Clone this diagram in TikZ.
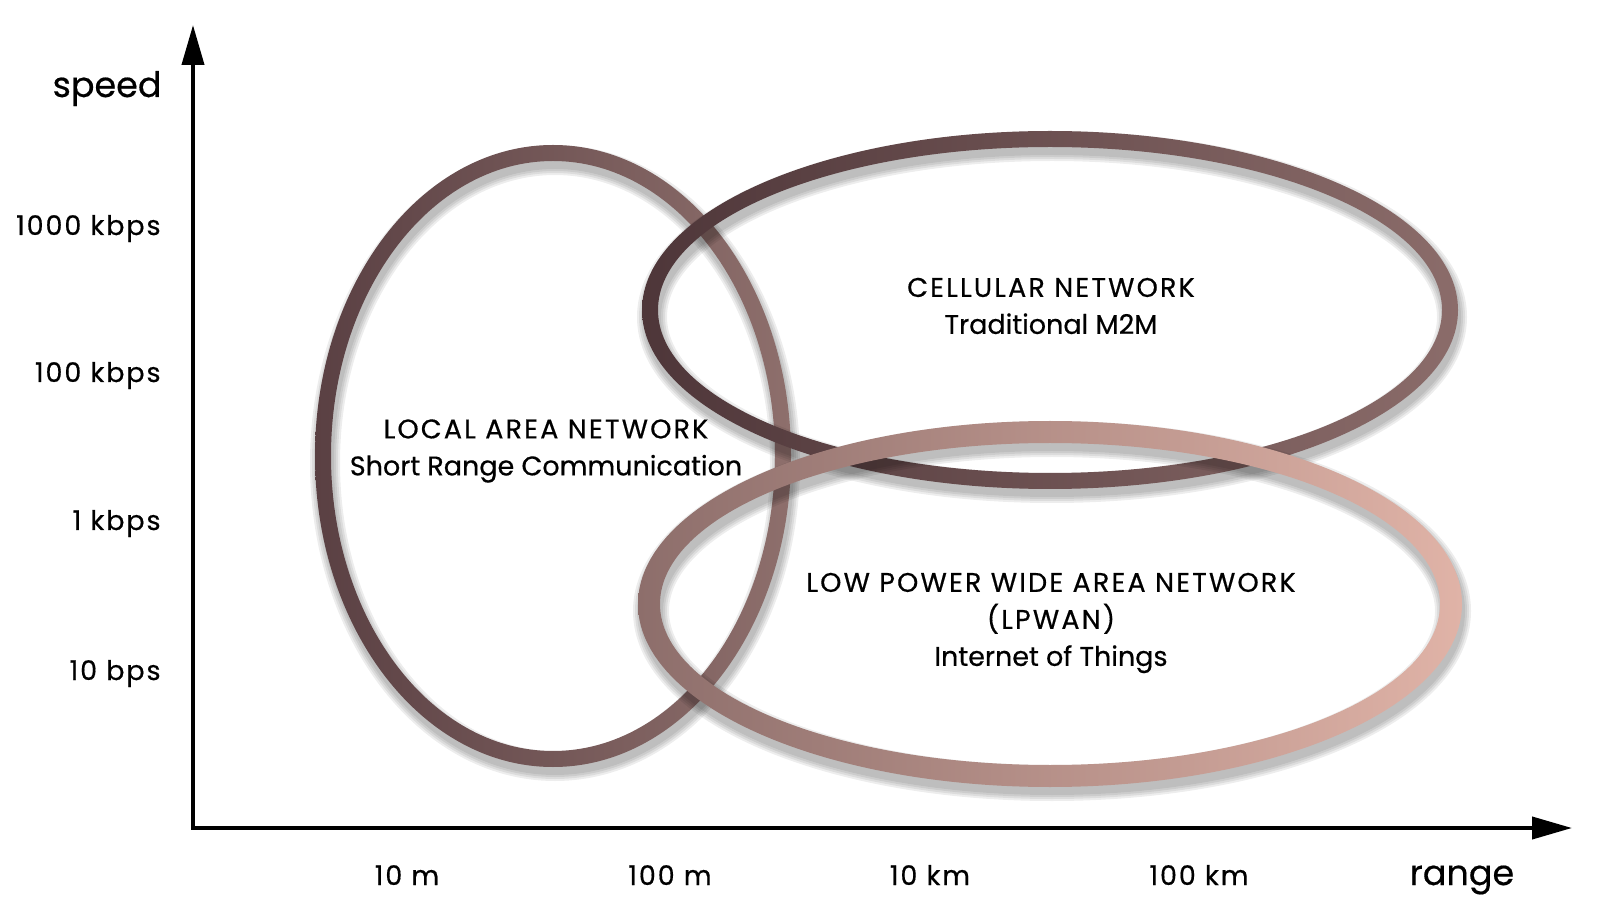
\documentclass[tikz,border=0pt]{standalone}
\usepackage{fontspec}
\setmainfont{Poppins}[FakeBold=0.5]
\newfontfamily\capsfont{Poppins}[FakeBold=0.5, LetterSpace=8]
\newfontfamily\tickfont{Poppins}[FakeBold=0.5, LetterSpace=7]
\usetikzlibrary{arrows.meta}

\definecolor{lanleft}{HTML}{5A4043}
\definecolor{lanright}{HTML}{8E6F6C}
\definecolor{cellleft}{HTML}{4E3639}
\definecolor{cellright}{HTML}{8B6C6A}
\definecolor{lpwanleft}{HTML}{8D6E6B}
\definecolor{lpwanright}{HTML}{E0B3A7}

\tikzset{
  ticklabel/.style={inner sep=0pt, font=\tickfont\fontsize{13.5}{16}\selectfont},
  axislabel/.style={inner sep=0pt, font=\fontsize{17.5}{21}\selectfont},
  netlabel/.style={font=\fontsize{13.5}{18.5}\selectfont, align=center},
}

\begin{document}
\begin{tikzpicture}[x=0.5pt,y=-0.5pt]
  \useasboundingbox (0,0) rectangle (1600,924);

  % rings: centre x, centre y, radii, band width, colours
  \foreach \cx/\cy/\rx/\ry/\w/\cl/\cr in {553/456/230/303/16/lanleft/lanright,
      1050/310/400/171/16/cellleft/cellright,
      1050/604/401/172/22/lpwanleft/lpwanright}{
    % soft shadow
    \foreach \s in {2,6,10,14}
      \draw[black, opacity=0.07, line width=(\w+\s)*0.5pt] (\cx+2,\cy+7) ellipse [x radius=\rx, y radius=\ry];
    \shade[left color=\cl, right color=\cr, even odd rule]
      (\cx,\cy) ellipse [x radius=\rx+\w/2, y radius=\ry+\w/2]
      (\cx,\cy) ellipse [x radius=\rx-\w/2, y radius=\ry-\w/2];
  }

  \node[netlabel] (lan) at (546,451) {{\capsfont LOCAL AREA NETWORK}\\Short Range Communication};
  \node[netlabel] (cell) at (1051,306) {{\capsfont CELLULAR NETWORK}\\Traditional M2M};
  \node[netlabel] (lpwan) at (1051,623) {{\capsfont LOW POWER WIDE AREA NETWORK}\\{\capsfont (LPWAN)}\\Internet of Things};

  % axes
  \coordinate (O) at (193,828);
  \coordinate (Y) at (193,25);
  \coordinate (X) at (1572,828);
  \draw[line width=2pt, {Triangle[length=20pt,width=11pt]}-{Triangle[length=20pt,width=11pt]}] (Y) -- (O) -- (X);

  \node[axislabel, anchor=base east] (speed) at (162,97) {speed};
  \node[axislabel, anchor=base] (range) at (1462,885) {range};

  \node[ticklabel, anchor=base east] (s1000) at (161,235) {1000 kbps};
  \node[ticklabel, anchor=base east] (s100) at (161,382) {100 kbps};
  \node[ticklabel, anchor=base east] (s1) at (161,530) {1 kbps};
  \node[ticklabel, anchor=base east] (s10) at (161,680) {10 bps};

  \node[ticklabel, anchor=base] (r10m) at (407,885) {10 m};
  \node[ticklabel, anchor=base] (r100m) at (670,885) {100 m};
  \node[ticklabel, anchor=base] (r10km) at (930,885) {10 km};
  \node[ticklabel, anchor=base] (r100km) at (1199,885) {100 km};
\end{tikzpicture}
\end{document}
